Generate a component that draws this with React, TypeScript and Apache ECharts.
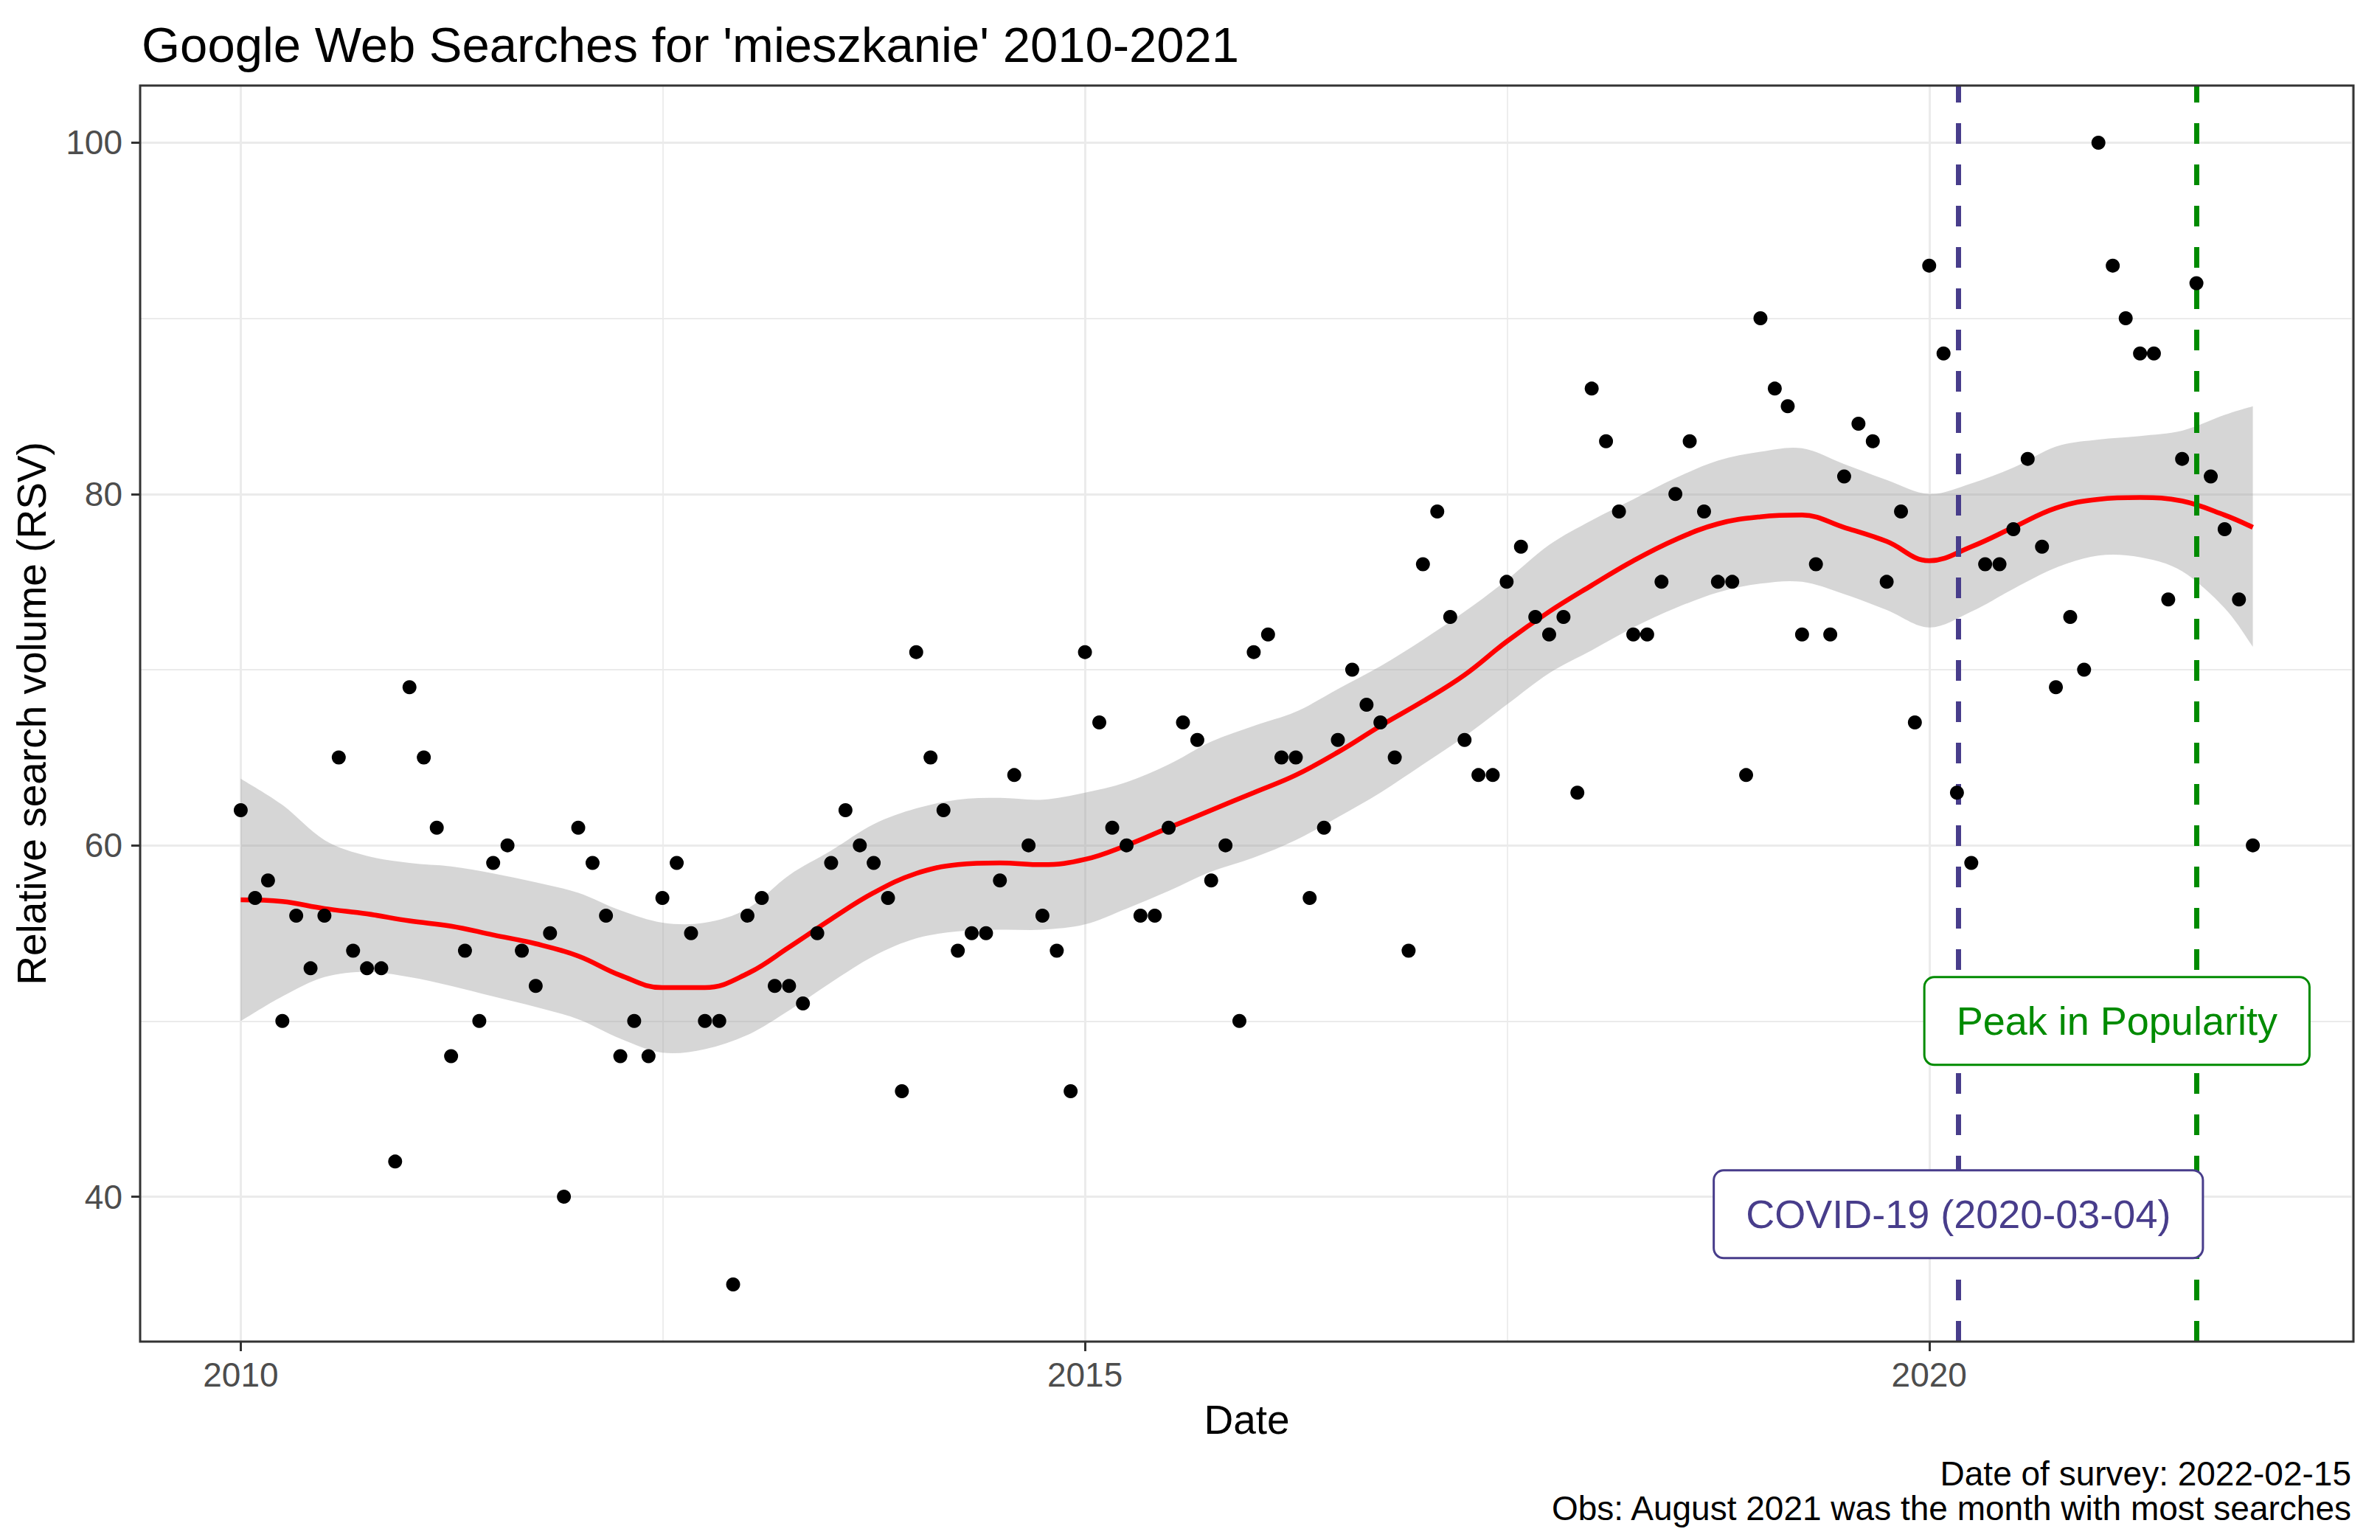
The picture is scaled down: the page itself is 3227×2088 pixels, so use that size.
import React, { useEffect, useRef } from "react";
import * as echarts from "echarts";

const W = 3227;
const H = 2088;
const FONT = '"Liberation Sans", Arial, Helvetica, sans-serif';

// Monthly relative search volume, Jan 2010 .. Dec 2021
const START_YEAR = 2010;
const rsv2010 = [62, 57, 58, 50, 56, 53, 56, 65, 54, 53, 53, 42];
const rsv2011 = [69, 65, 61, 48, 54, 50, 59, 60, 54, 52, 55, 40];
const rsv2012 = [61, 59, 56, 48, 50, 48, 57, 59, 55, 50, 50, 35];
const rsv2013 = [56, 57, 52, 52, 51, 55, 59, 62, 60, 59, 57, 46];
const rsv2014 = [71, 65, 62, 54, 55, 55, 58, 64, 60, 56, 54, 46];
const rsv2015 = [71, 67, 61, 60, 56, 56, 61, 67, 66, 58, 60, 50];
const rsv2016 = [71, 72, 65, 65, 57, 61, 66, 70, 68, 67, 65, 54];
const rsv2017 = [76, 79, 73, 66, 64, 64, 75, 77, 73, 72, 73, 63];
const rsv2018 = [86, 83, 79, 72, 72, 75, 80, 83, 79, 75, 75, 64];
const rsv2019 = [90, 86, 85, 72, 76, 72, 81, 84, 83, 75, 79, 67];
const rsv2020 = [93, 88, 63, 59, 76, 76, 78, 82, 77, 69, 73, 70];
const rsv2021 = [100, 93, 90, 88, 88, 74, 82, 92, 81, 78, 74, 60];
const rsv = [
  ...rsv2010, ...rsv2011, ...rsv2012, ...rsv2013, ...rsv2014, ...rsv2015,
  ...rsv2016, ...rsv2017, ...rsv2018, ...rsv2019, ...rsv2020, ...rsv2021,
];

// Loess fit and its confidence band (month index from Jan 2010)
const smoothMonth = [0, 3, 6, 9, 12, 15, 18, 21, 24, 27, 30, 33, 36, 39, 42, 45, 48, 51, 54, 57, 60, 63, 66, 69, 72, 75, 78, 81, 84, 87, 90, 93, 96, 99, 102, 105, 108, 111, 114, 117, 120, 123, 126, 129, 132, 135, 138, 141, 143];
const smoothFit = [56.9, 56.8, 56.4, 56.1, 55.7, 55.4, 54.9, 54.4, 53.7, 52.6, 51.9, 51.9, 52.7, 54.2, 55.8, 57.3, 58.4, 58.9, 59.0, 58.9, 59.2, 60.0, 61.0, 62.0, 63.0, 64.0, 65.3, 66.8, 68.2, 69.7, 71.6, 73.3, 74.8, 76.2, 77.4, 78.3, 78.7, 78.8, 78.1, 77.3, 76.2, 77.0, 78.1, 79.2, 79.7, 79.8, 79.6, 78.8, 78.1];
const smoothUpper = [63.8, 62.3, 60.3, 59.4, 59.0, 58.8, 58.4, 57.9, 57.3, 56.3, 55.6, 55.6, 56.4, 58.3, 59.7, 61.2, 62.1, 62.6, 62.7, 62.6, 63.0, 63.6, 64.6, 65.9, 66.8, 67.6, 68.9, 70.2, 71.7, 73.3, 75.1, 77.1, 78.5, 79.7, 80.9, 81.9, 82.4, 82.6, 81.7, 80.8, 80.0, 80.6, 81.5, 82.7, 83.1, 83.3, 83.6, 84.5, 85.0];
const smoothLower = [50.0, 51.4, 52.5, 52.8, 52.5, 52.0, 51.4, 50.8, 50.1, 49.0, 48.2, 48.4, 49.2, 50.6, 52.2, 53.7, 54.7, 55.1, 55.2, 55.2, 55.5, 56.4, 57.4, 58.5, 59.3, 60.3, 61.6, 63.0, 64.6, 66.2, 68.0, 69.8, 71.1, 72.4, 73.5, 74.4, 74.9, 75.0, 74.3, 73.4, 72.4, 73.3, 74.6, 75.8, 76.5, 76.4, 75.6, 73.5, 71.3];

// Axis breaks
const xMajorYears = [2010, 2015, 2020];
const yMajor = [40, 60, 80, 100];
const yMinor = [50, 70, 90];

// Annotations
const covidDate = "2020-03-04";
const peakDate = "2021-08-01";
const annotations = [
  { text: "COVID-19 (2020-03-04)", date: "2020-03-04", y: 39, color: "#483D8B" },
  { text: "Peak in Popularity", date: "2021-02-10", y: 50, color: "#008B00" },
];

const titleText = "Google Web Searches for 'mieszkanie' 2010-2021";
const xTitle = "Date";
const yTitle = "Relative search volume (RSV)";
const captionLines = ["Date of survey: 2022-02-15", "Obs: August 2021 was the month with most searches"];

const monthTs = (i: number) => Date.UTC(START_YEAR, i, 1);
const dateTs = (s: string) => {
  const [y, m, d] = s.split("-").map(Number);
  return Date.UTC(y, m - 1, d);
};

// panel geometry (pixels)
const PL = 190;
const PT = 116;
const PW = 3001;
const PH = 1703;

// Catmull-Rom style bezier path through pixel points (drawing helper)
function bezierThrough(pts: number[][], moveFirst: boolean): string {
  let d = moveFirst ? `M${pts[0][0]},${pts[0][1]}` : `L${pts[0][0]},${pts[0][1]}`;
  for (let i = 0; i < pts.length - 1; i++) {
    const p0 = pts[i - 1] || pts[i];
    const p1 = pts[i];
    const p2 = pts[i + 1];
    const p3 = pts[i + 2] || pts[i + 1];
    const c1x = p1[0] + (p2[0] - p0[0]) / 6;
    const c1y = p1[1] + (p2[1] - p0[1]) / 6;
    const c2x = p2[0] - (p3[0] - p1[0]) / 6;
    const c2y = p2[1] - (p3[1] - p1[1]) / 6;
    d += ` C${c1x},${c1y} ${c2x},${c2y} ${p2[0]},${p2[1]}`;
  }
  return d;
}

export default function App() {
  const ref = useRef<HTMLDivElement>(null);

  useEffect(() => {
    if (!ref.current) return;
    const chart = echarts.init(ref.current, undefined, { renderer: "svg", width: W, height: H });

    const firstTs = monthTs(0);
    const lastTs = monthTs(rsv.length - 1);
    const span = lastTs - firstTs;
    const xMin = firstTs - 0.05 * span;
    const xMax = lastTs + 0.05 * span;
    const vMin = Math.min(...rsv);
    const vMax = Math.max(...rsv);
    const yMin = vMin - 0.05 * (vMax - vMin);
    const yMax = vMax + 0.05 * (vMax - vMin);

    const xMajor = xMajorYears.map((y) => Date.UTC(y, 0, 1));
    const xMinor: number[] = [];
    for (let i = 0; i < xMajor.length; i++) {
      const next = i + 1 < xMajor.length ? xMajor[i + 1] : Date.UTC(xMajorYears[i] + 5, 0, 1);
      xMinor.push((xMajor[i] + next) / 2);
    }
    const minorInRange = xMinor.filter((t) => t > xMin && t < xMax);

    const gridColor = "#EBEBEB";
    const gridLines = [
      ...minorInRange.map((t) => ({ xAxis: t, lineStyle: { color: gridColor, width: 1.8, type: "solid" } })),
      ...yMinor.map((v) => ({ yAxis: v, lineStyle: { color: gridColor, width: 1.8, type: "solid" } })),
      ...xMajor.map((t) => ({ xAxis: t, lineStyle: { color: gridColor, width: 3, type: "solid" } })),
      ...yMajor.map((v) => ({ yAxis: v, lineStyle: { color: gridColor, width: 3, type: "solid" } })),
    ];

    const smoothTs = smoothMonth.map(monthTs);

    const captionTexts = captionLines.map((line, i) => ({
      type: "text",
      x: 3188,
      y: 1998 + i * 47,
      silent: true,
      style: { text: line, fontSize: 46, fontFamily: FONT, fill: "#000000", align: "right", verticalAlign: "middle" },
    }));

    const option: any = {
      animation: false,
      backgroundColor: "#FFFFFF",
      grid: {
        left: PL,
        top: PT,
        width: PW,
        height: PH,
        show: false,
        containLabel: false,
        outerBoundsMode: "none",
      },
      xAxis: {
        type: "value",
        min: xMin,
        max: xMax,
        axisLine: { show: false },
        splitLine: { show: false },
        axisTick: {
          show: true,
          customValues: xMajor,
          length: 13,
          lineStyle: { color: "#333333", width: 3 },
        },
        axisLabel: {
          show: true,
          customValues: xMajor,
          formatter: (v: number) => String(new Date(v).getUTCFullYear()),
          color: "#4D4D4D",
          fontSize: 46,
          fontFamily: FONT,
          margin: 22,
        },
      },
      yAxis: {
        type: "value",
        min: yMin,
        max: yMax,
        axisLine: { show: false },
        splitLine: { show: false },
        axisTick: {
          show: true,
          customValues: yMajor,
          length: 12,
          lineStyle: { color: "#333333", width: 3 },
        },
        axisLabel: {
          show: true,
          customValues: yMajor,
          color: "#4D4D4D",
          fontSize: 46,
          fontFamily: FONT,
          margin: 24,
        },
      },
      series: [
        {
          type: "scatter",
          name: "grid",
          z: 1,
          symbolSize: 0,
          silent: true,
          itemStyle: { opacity: 0 },
          data: [[firstTs, 60]],
          markLine: {
            z: 1,
            silent: true,
            symbol: ["none", "none"],
            label: { show: false },
            emphasis: { disabled: true },
            data: gridLines,
          },
        },
        {
          type: "custom",
          name: "band",
          z: 2,
          silent: true,
          data: [[smoothTs[0], smoothFit[0]]],
          renderItem: (_params: any, api: any) => {
            const up = smoothTs.map((t, i) => api.coord([t, smoothUpper[i]]));
            const lo = smoothTs.map((t, i) => api.coord([t, smoothLower[i]])).reverse();
            const d = bezierThrough(up, true) + " " + bezierThrough(lo, false) + " Z";
            return {
              type: "path",
              shape: { pathData: d },
              style: { fill: "rgba(153,153,153,0.4)", stroke: "none" },
            };
          },
        },
        {
          type: "line",
          name: "fit",
          z: 3,
          smooth: 0.4,
          symbol: "none",
          silent: true,
          lineStyle: { color: "#FF0000", width: 6.5 },
          data: smoothTs.map((t, i) => [t, smoothFit[i]]),
        },
        {
          type: "scatter",
          name: "vlines",
          z: 4,
          symbolSize: 0,
          silent: true,
          itemStyle: { opacity: 0 },
          data: [[dateTs(covidDate), 39]],
          markLine: {
            z: 4,
            silent: true,
            symbol: ["none", "none"],
            label: { show: false },
            emphasis: { disabled: true },
            data: [
              { xAxis: dateTs(covidDate), lineStyle: { color: "#483D8B", width: 7, type: [28, 28], opacity: 1 } },
              { xAxis: dateTs(peakDate), lineStyle: { color: "#008B00", width: 7, type: [28, 28], opacity: 1 } },
            ],
          },
        },
        {
          type: "scatter",
          name: "rsv",
          z: 5,
          symbol: "circle",
          symbolSize: 19,
          silent: true,
          itemStyle: { color: "#000000", opacity: 1 },
          data: rsv.map((v, i) => [monthTs(i), v]),
        },
        {
          type: "scatter",
          name: "labels",
          z: 6,
          symbolSize: 0,
          silent: true,
          itemStyle: { opacity: 1 },
          label: {
            show: true,
            position: "inside",
            formatter: "{b}",
            fontSize: 54,
            fontFamily: FONT,
            backgroundColor: "#FFFFFF",
            borderWidth: 3,
            borderRadius: 12,
            padding: [31, 42],
            opacity: 1,
          },
          data: annotations.map((a) => ({
            value: [dateTs(a.date), a.y],
            name: a.text,
            label: { color: a.color, borderColor: a.color },
          })),
        },
      ],
      graphic: [
        {
          type: "rect",
          z: 100,
          silent: true,
          shape: { x: PL, y: PT, width: PW, height: PH },
          style: { fill: "none", stroke: "#333333", lineWidth: 3 },
        },
        {
          type: "text",
          x: 192,
          y: 60,
          silent: true,
          style: { text: titleText, fontSize: 67, fontFamily: FONT, fill: "#000000", align: "left", verticalAlign: "middle" },
        },
        {
          type: "text",
          x: PL + PW / 2,
          y: 1925,
          silent: true,
          style: { text: xTitle, fontSize: 55, fontFamily: FONT, fill: "#000000", align: "center", verticalAlign: "middle" },
        },
        {
          type: "text",
          x: 43,
          y: PT + PH / 2,
          rotation: Math.PI / 2,
          silent: true,
          style: { text: yTitle, fontSize: 55, fontFamily: FONT, fill: "#000000", align: "center", verticalAlign: "middle" },
        },
        ...captionTexts,
      ],
    };

    chart.setOption(option);
    return () => {
      chart.dispose();
    };
  }, []);

  return (
    <div
      ref={ref}
      style={{ position: "fixed", left: 0, top: 0, width: W, height: H, background: "#FFFFFF" }}
    />
  );
}
